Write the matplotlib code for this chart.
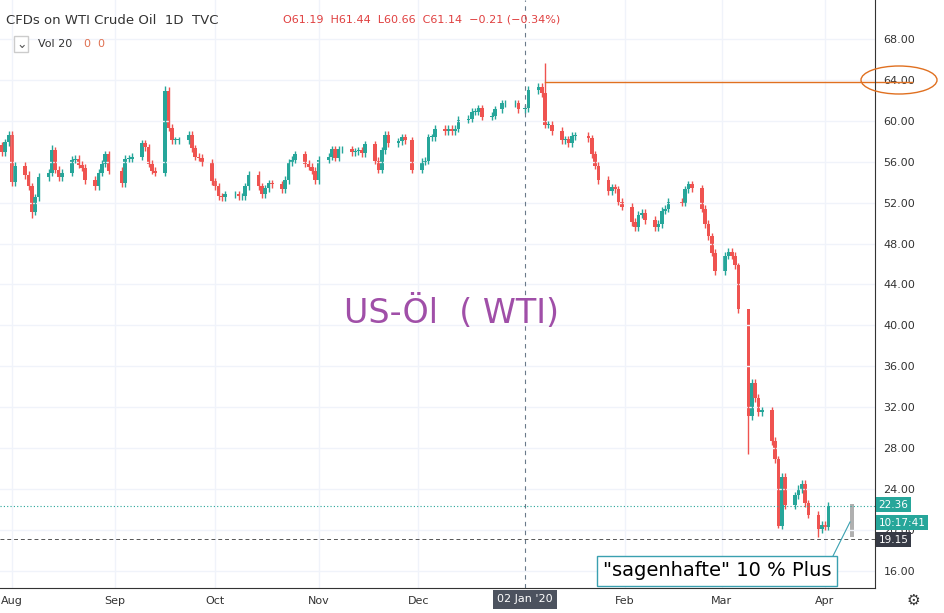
import numpy as np, pandas as pd, matplotlib
matplotlib.use("Agg")
import matplotlib.pyplot as plt, matplotlib.dates as mdates
from matplotlib.patches import Ellipse

close = [56.9,57.9,58.6,
 54.0,55.6,54.7,53.6,51.1,52.5,54.5,54.9,57.1,55.2,54.5,54.9,56.2,56.3,55.7,55.4,54.2,53.6,54.9,55.8,56.7,55.1,
 53.9,56.3,56.3,56.5,57.8,57.4,55.8,55.1,54.9,62.9,59.3,58.1,58.1,58.1,58.6,57.3,56.5,56.4,55.9,54.1,
 53.6,52.6,52.5,52.8,52.8,52.6,52.6,53.6,54.7,53.6,52.8,53.4,53.9,53.8,53.3,54.2,55.9,56.2,56.7,55.8,55.5,55.1,54.2,
 56.2,56.5,57.2,56.4,57.2,57.2,56.9,57.0,57.1,56.8,57.7,56.1,55.2,57.1,58.6,57.8,58.0,58.4,58.1,55.2,
 56.0,56.1,58.4,58.4,59.2,59.0,59.2,59.0,59.2,60.1,60.2,60.9,60.9,61.2,60.4,60.5,61.1,61.7,61.7,61.7,61.1,
 61.2,63.0,63.3,62.7,59.6,59.6,59.0,58.1,58.2,57.8,58.5,58.5,58.3,56.7,55.6,54.2,53.1,53.5,53.3,52.1,51.6,
 50.1,49.6,50.8,51.0,50.3,49.6,49.9,51.2,51.4,52.1,52.0,53.3,53.8,53.4,51.4,49.9,48.7,47.1,45.3,
 46.8,47.2,46.8,45.9,41.6,31.1,34.4,32.9,31.5,31.7,28.7,26.9,20.4,25.2,22.4,23.4,24.0,24.5,22.6,21.5,20.1,20.5,
 20.3,22.36]
first_open = 57.6
extra_high = {"2019-09-16": 63.4, "2020-01-08": 65.6, "2019-08-13": 57.6, "2020-03-09": 34.5, "2020-03-06": 46.1}
extra_low = {"2019-08-07": 50.5, "2020-03-18": 20.2, "2020-03-30": 19.3, "2020-03-09": 27.4}
holidays = ["2019-09-02","2019-11-28","2019-12-25","2020-01-01","2020-01-20","2020-02-17"]

cbd = pd.offsets.CustomBusinessDay(holidays=holidays)
dates = pd.date_range("2019-07-29", periods=len(close), freq=cbd)
opens = [first_open] + close[:-1]
up_c, dn_c = "#26a69a", "#ef5350"

fig = plt.figure(figsize=(9.44, 6.13), dpi=100)
ax = fig.add_axes([0, 25/613, 875/944, 588/613])
x = mdates.date2num(dates)
for xi, d, o, c in zip(x, dates, opens, close):
    k = d.strftime("%Y-%m-%d")
    h = extra_high.get(k, max(o, c) + 0.35)
    l = extra_low.get(k, min(o, c) - 0.35)
    col = up_c if c >= o else dn_c
    ax.vlines(xi, l, h, color=col, lw=1)
    ax.bar(xi, max(abs(c - o), 0.08), bottom=min(o, c), width=1.1, color=col, lw=0)

x0 = mdates.date2num(pd.Timestamp("2019-07-28 10:00"))
x1 = mdates.date2num(pd.Timestamp("2020-04-16"))
ax.set_xlim(x0, x1); ax.set_ylim(14.33, 71.8)
for s in ax.spines.values(): s.set_visible(False)
ax.spines["right"].set_visible(True); ax.spines["right"].set_color("#333333")
ax.spines["bottom"].set_visible(True); ax.spines["bottom"].set_color("#333333")
ax.grid(color="#f0f3fa", lw=1)
ax.yaxis.tick_right()
ax.set_yticks(np.arange(16, 69, 4))
ax.set_yticklabels([f"{v:.2f}" for v in np.arange(16, 69, 4)], fontsize=8, color="#333333")
months = ["2019-08-01","2019-09-01","2019-10-01","2019-11-01","2019-12-01","2020-02-01","2020-03-01","2020-04-01"]
ax.set_xticks(mdates.date2num(pd.to_datetime(months)))
ax.set_xticklabels(["Aug","Sep","Oct","Nov","Dec","Feb","Mar","Apr"], fontsize=8, color="#333333")
ax.tick_params(length=0, pad=6)

jan2 = mdates.date2num(pd.Timestamp("2020-01-02"))
ax.axvline(jan2, color="#6a7a8a", ls=(0, (4, 4)), lw=0.8)
ax.text(jan2, 14.33 - 0.6, "02 Jan '20", ha="center", va="top", fontsize=8, color="white",
        bbox=dict(boxstyle="square,pad=0.4", fc="#4c525e", ec="none"))

last = close[-1]
ax.axhline(last, color="#26a69a", ls=(0, (1, 2)), lw=0.8)
ax.axhline(19.15, color="#555555", ls=(0, (4, 3)), lw=0.7)
yt = ax.get_yaxis_transform()
ax.text(1.004, last + 0.1, f"{last:.2f}", transform=yt, va="center", fontsize=7.5,
        color="white", bbox=dict(boxstyle="square,pad=0.25", fc="#26a69a", ec="none"), clip_on=False)
ax.text(1.004, last - 1.65, "10:17:41", transform=yt, va="center", fontsize=7.5,
        color="white", bbox=dict(boxstyle="square,pad=0.25", fc="#26a69a", ec="none"), clip_on=False)
ax.text(1.004, 19.05, "19.15", transform=yt, va="center", fontsize=7.5,
        color="white", bbox=dict(boxstyle="square,pad=0.25", fc="#363a45", ec="none"), clip_on=False)

xl = mdates.date2num(pd.Timestamp("2020-01-08"))
xr = mdates.date2num(pd.Timestamp("2020-04-27"))
ax.plot([xl, xr], [63.8, 63.8], color="#e07020", lw=1, clip_on=False)
fig.patches.append(Ellipse((899/944, 1 - 80/613), 76/944, 28/613, transform=fig.transFigure,
                           fill=False, ec="#e07020", lw=1))

xg = mdates.date2num(pd.Timestamp("2020-04-09"))
ax.bar(xg, 3.2, bottom=19.3, width=1.3, color="#b0b0b0")

ax.text(mdates.date2num(pd.Timestamp("2019-12-11")), 41.3, "US-Öl  ( WTI)", fontsize=24,
        color="#a04fa8", ha="center", va="center")
fig.text(603/944, 1 - 571/613, "\"sagenhafte\" 10 % Plus", fontsize=14, va="center",
         bbox=dict(boxstyle="square,pad=0.3", fc="white", ec="#3aa0b0", lw=1))
fig.add_artist(plt.Line2D([833/944, 850/944], [1 - 556/613, 1 - 522/613], color="#3aa0b0", lw=0.8))

fig.text(6/944, 1 - 20/613, "CFDs on WTI Crude Oil  1D  TVC", fontsize=9.5, color="#333333", va="center")
fig.text(283/944, 1 - 20/613, "O61.19  H61.44  L60.66  C61.14  −0.21 (−0.34%)", fontsize=8, color="#e04040", va="center")
fig.text(38/944, 1 - 44/613, "Vol 20", fontsize=8, color="#333333", va="center")
fig.text(84/944, 1 - 44/613, "0  0", fontsize=8, color="#e07050", va="center")
fig.text(16/944, 1 - 44/613, "⌄", fontsize=9, color="#555555", va="center",
         bbox=dict(boxstyle="square,pad=0.15", fc="white", ec="#cccccc"))
fig.text(913/944, 1 - 600/613, "⚙", fontsize=11, color="#333333", ha="center", va="center")
fig.savefig("out.png", dpi=100)
